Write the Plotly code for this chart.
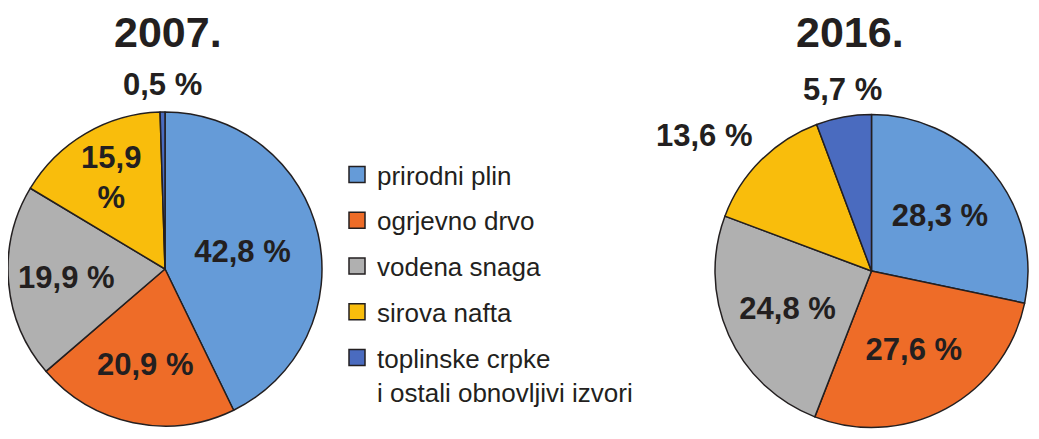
import math
import plotly.graph_objects as go

# Udjeli izvora energije (%)
izvori = ["prirodni plin", "ogrjevno drvo", "vodena snaga", "sirova nafta",
          "toplinske crpke<br>i ostali obnovljivi izvori"]
boje = ["#659BD8", "#EE6C28", "#B0B0B0", "#F9BD0C", "#4A6BBF"]

godine = ["2007.", "2016."]
udjeli_2007 = [42.8, 20.9, 19.9, 15.9, 0.5]
udjeli_2016 = [28.3, 27.6, 24.8, 13.6, 5.7]

oznake_2007 = ["42,8 %", "20,9 %", "19,9 %", "15,9<br>%", "0,5 %"]
oznake_2016 = ["28,3 %", "27,6 %", "24,8 %", "13,6 %", "5,7 %"]
vani_2007 = [False, False, False, False, True]
vani_2016 = [False, False, False, True, True]

TAMNA = "#231F20"
FONT = "Liberation Sans, Arial, sans-serif"
W, H = 1039, 439
OFS = 8  # body margin stranice
FW, FH = W - OFS, H - OFS


def px_x(x):
    return min(max((x - OFS) / FW, 0), 1)


def px_y(y):
    return min(max((H - y) / FH, 0), 1)


fig = go.Figure()


def dodaj_pitu(udjeli, oznake, vani, cx, cy, r):
    tekst = ["" if v else t for t, v in zip(oznake, vani)]
    fig.add_trace(go.Pie(
        labels=izvori, values=udjeli, text=tekst, textinfo="text",
        textposition="inside", sort=False, direction="clockwise", rotation=0,
        marker=dict(colors=boje, line=dict(color=TAMNA, width=1.5)),
        textfont=dict(family=FONT, size=31, color=TAMNA, weight="bold"),
        insidetextorientation="horizontal",
        domain=dict(x=[px_x(cx - r), px_x(cx + r)],
                    y=[px_y(cy + r), px_y(cy - r)]),
        showlegend=False, hoverinfo="skip",
    ))
    # vanjske oznake uz sredinu isjecka
    ukupno = sum(udjeli)
    kum = 0
    for u, t, v in zip(udjeli, oznake, vani):
        kut = (kum + u / 2) / ukupno * 2 * math.pi
        kum += u
        if not v:
            continue
        d = r + 8
        x = cx + d * math.sin(kut)
        y = cy - d * math.cos(kut)
        s = math.sin(kut)
        xa = "center" if abs(s) < 0.3 else ("left" if s > 0 else "right")
        fig.add_annotation(
            text=t, x=px_x(x), y=px_y(y), xref="paper", yref="paper",
            xanchor=xa, yanchor="bottom", showarrow=False,
            font=dict(family=FONT, size=31, color=TAMNA, weight="bold"),
        )


dodaj_pitu(udjeli_2007, oznake_2007, vani_2007, 165, 269, 157)
dodaj_pitu(udjeli_2016, oznake_2016, vani_2016, 871.5, 271, 156.5)

# legenda preko praznih tragova (zasebne grupe radi razmaka)
for i, (naziv, boja) in enumerate(zip(izvori, boje)):
    fig.add_trace(go.Scatter(
        x=[None], y=[None], mode="markers", name=naziv, legendgroup=str(i),
        marker=dict(symbol="square", size=16, color=boja,
                    line=dict(color=TAMNA, width=1.5)),
        hoverinfo="skip",
    ))

# naslovi godina
for god, x, y in zip(godine, [167.5, 850], [32, 32]):
    fig.add_annotation(
        text=god, x=px_x(x), y=px_y(y), xref="paper", yref="paper",
        xanchor="center", yanchor="middle", showarrow=False, borderpad=0,
        font=dict(family=FONT, size=43, color=TAMNA, weight="bold"),
    )

fig.update_layout(
    width=FW, height=FH,
    margin=dict(l=0, r=0, t=0, b=0),
    paper_bgcolor="white", plot_bgcolor="white",
    xaxis=dict(visible=False), yaxis=dict(visible=False),
    legend=dict(
        x=px_x(337), y=px_y(151), xanchor="left", yanchor="top",
        font=dict(family=FONT, size=26, color=TAMNA),
        tracegroupgap=9, valign="top", bgcolor="rgba(0,0,0,0)",
        itemsizing="trace",
    ),
    showlegend=True,
)

fig.write_html("out.html")
